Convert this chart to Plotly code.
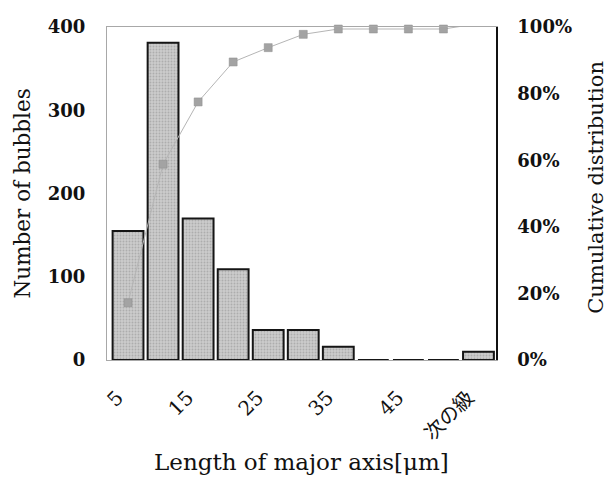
import plotly.graph_objects as go

categories = ["5", "10", "15", "20", "25", "30", "35", "40", "45", "50", "次の級"]
counts = [155, 381, 170, 109, 36, 36, 16, 0, 0, 0, 10]
cumulative_pct = [17.2, 58.8, 77.5, 89.5, 93.8, 97.8, 99.4, 99.4, 99.4, 99.4, 101.0]
shown_tick_labels = ["5", "15", "25", "35", "45", "次の級"]
left_ticks = [0, 100, 200, 300, 400]
right_ticks = [0, 20, 40, 60, 80, 100]

x_pos = list(range(len(categories)))
# labels in the reference sit a little left of their category centre
label_offset = -0.3
shown_idx = [categories.index(t) + label_offset for t in shown_tick_labels]

serif = "DejaVu Serif, Liberation Serif, Noto Sans CJK JP, serif"
xtick_font = "DejaVu Serif, Noto Sans CJK JP, serif"

fig = go.Figure()
fig.add_trace(go.Bar(
    x=x_pos, y=counts,
    marker=dict(color="#cbcbcb", line=dict(color="#151515", width=2),
                pattern=dict(shape=".", fgcolor="#8f8f8f", size=3, solidity=0.3)),
    yaxis="y", showlegend=False,
))
fig.add_trace(go.Scatter(
    x=x_pos, y=cumulative_pct, mode="lines+markers",
    line=dict(color="#b5b5b5", width=1),
    marker=dict(symbol="square", size=8, color="#a3a3a3", line=dict(color="#8c8c8c", width=0.5)),
    yaxis="y2", showlegend=False, cliponaxis=False,
))

# page body has an 8px default margin, so the figure is 8px smaller than the window
fig.update_layout(
    width=607, height=479,
    margin=dict(l=99, r=119, t=19, b=127),
    paper_bgcolor="white", plot_bgcolor="white",
    bargap=0.12,
    font=dict(family=serif, color="#111111"),
    xaxis=dict(
        range=[-0.6, len(categories) - 0.5], automargin=False,
        tickmode="array", tickvals=shown_idx, ticktext=shown_tick_labels,
        tickangle=-45, tickfont=dict(size=20, family=xtick_font), ticklabelstandoff=17,
        showgrid=False, zeroline=False,
        showline=True, linecolor="#a8a8a8", linewidth=1, mirror=True,
        ticks="",
    ),
    yaxis=dict(
        range=[0, 400], tickmode="array", tickvals=left_ticks,
        ticktext=[str(v) for v in left_ticks], automargin=False,
        tickfont=dict(size=18, family=serif, weight="bold"),
        showgrid=False, zeroline=False,
        showline=True, linecolor="#a8a8a8", linewidth=1,
        ticks="", ticklabelstandoff=17,
    ),
    yaxis2=dict(
        overlaying="y", side="right", automargin=False,
        range=[0, 100], tickmode="array", tickvals=right_ticks,
        ticktext=[f"{v}%" for v in right_ticks],
        tickfont=dict(size=18, family=serif, weight="bold"),
        showgrid=False, zeroline=False,
        showline=True, linecolor="#111111", linewidth=1.5,
        ticks="", ticklabelstandoff=16,
    ),
    annotations=[
        dict(text="Number of bubbles", xref="paper", yref="paper", x=-0.216, y=0.5,
             textangle=-90, showarrow=False, font=dict(size=21.5, family=serif),
             xanchor="center", yanchor="middle"),
        dict(text="Cumulative distribution", xref="paper", yref="paper", x=1.257, y=0.52,
             textangle=-90, showarrow=False, font=dict(size=21, family=serif),
             xanchor="center", yanchor="middle"),
        dict(text="Length of major axis[μm]", xref="paper", yref="paper", x=0.501, y=-0.306,
             showarrow=False, font=dict(size=23, family=serif),
             xanchor="center", yanchor="middle"),
    ],
)

fig.write_html("out.html")
